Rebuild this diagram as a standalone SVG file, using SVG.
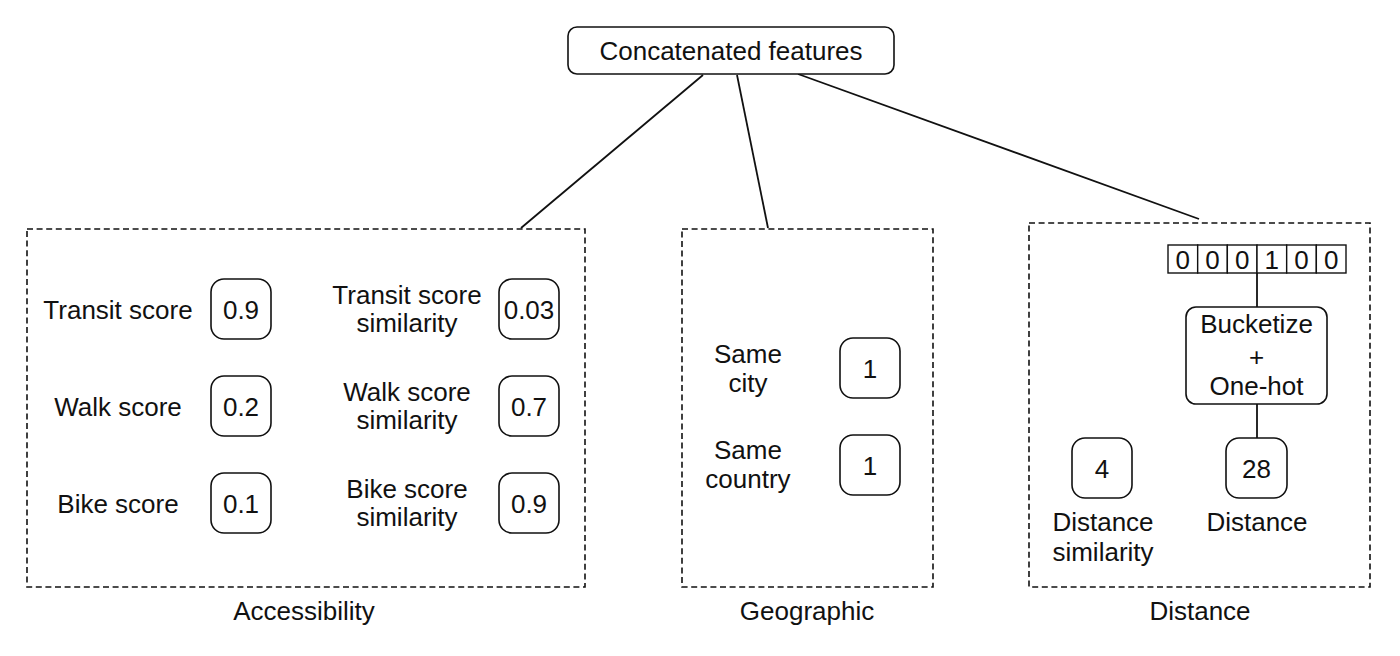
<svg xmlns="http://www.w3.org/2000/svg" width="1400" height="656" viewBox="0 0 1400 656">
<style>
text{font-family:"Liberation Sans",Arial,sans-serif;font-size:26px;fill:#111;text-anchor:middle}
.box{fill:#fff;stroke:#111;stroke-width:1.6}
.grp{fill:none;stroke:#111;stroke-width:1.6;stroke-dasharray:6 3.6}
.ln{stroke:#111;stroke-width:1.8;fill:none}
.cell{fill:#fff;stroke:#111;stroke-width:1.4}
</style>
<rect width="1400" height="656" fill="#fff"/>
<g id="connectors">
<line class="ln" x1="703" y1="75" x2="521" y2="228"/>
<line class="ln" x1="737" y1="75" x2="768" y2="228"/>
<line class="ln" x1="798" y1="74" x2="1199" y2="219"/>
<line class="ln" x1="1257" y1="273" x2="1257" y2="307"/>
<line class="ln" x1="1257" y1="404" x2="1257" y2="438"/>
</g>
<g id="concatenated">
<rect class="box" x="568" y="27" width="326" height="47" rx="9"/>
<text x="731" y="60">Concatenated features</text>
</g>
<g id="accessibility">
<rect class="grp" x="27" y="229" width="558" height="358"/>
<text x="304" y="620">Accessibility</text>
</g>
<g id="transit-score">
<text x="118" y="319">Transit score</text>
<rect class="box" x="211" y="279" width="60" height="60" rx="13"/>
<text x="241" y="318.5">0.9</text>
</g>
<g id="walk-score">
<text x="118" y="416">Walk score</text>
<rect class="box" x="211" y="376" width="60" height="60" rx="13"/>
<text x="241" y="415.5">0.2</text>
</g>
<g id="bike-score">
<text x="118" y="513">Bike score</text>
<rect class="box" x="211" y="473" width="60" height="60" rx="13"/>
<text x="241" y="512.5">0.1</text>
</g>
<g id="transit-sim">
<text x="407" y="303.5">Transit score</text>
<text x="407" y="332">similarity</text>
<rect class="box" x="499" y="279" width="60" height="60" rx="13"/>
<text x="529" y="318.5">0.03</text>
</g>
<g id="walk-sim">
<text x="407" y="400.5">Walk score</text>
<text x="407" y="429">similarity</text>
<rect class="box" x="499" y="376" width="60" height="60" rx="13"/>
<text x="529" y="415.5">0.7</text>
</g>
<g id="bike-sim">
<text x="407" y="497.5">Bike score</text>
<text x="407" y="526">similarity</text>
<rect class="box" x="499" y="473" width="60" height="60" rx="13"/>
<text x="529" y="512.5">0.9</text>
</g>
<g id="geographic">
<rect class="grp" x="682" y="229" width="251" height="358"/>
<text x="807" y="620">Geographic</text>
</g>
<g id="same-city">
<text x="748" y="363">Same</text>
<text x="748" y="392">city</text>
<rect class="box" x="840" y="338" width="60" height="60" rx="13"/>
<text x="870" y="377.5">1</text>
</g>
<g id="same-country">
<text x="748" y="459">Same</text>
<text x="748" y="488">country</text>
<rect class="box" x="840" y="435" width="60" height="60" rx="13"/>
<text x="870" y="474.5">1</text>
</g>
<g id="distance-group">
<rect class="grp" x="1029" y="223" width="341" height="364"/>
<text x="1200" y="620">Distance</text>
</g>
<g id="one-hot-vector">
<rect class="cell" x="1168" y="245" width="29.67" height="28"/>
<rect class="cell" x="1197.67" y="245" width="29.67" height="28"/>
<rect class="cell" x="1227.33" y="245" width="29.67" height="28"/>
<rect class="cell" x="1257" y="245" width="29.67" height="28"/>
<rect class="cell" x="1286.67" y="245" width="29.67" height="28"/>
<rect class="cell" x="1316.33" y="245" width="29.67" height="28"/>
<text x="1182.8" y="268.5">0</text>
<text x="1212.5" y="268.5">0</text>
<text x="1242.2" y="268.5">0</text>
<text x="1271.8" y="268.5">1</text>
<text x="1301.5" y="268.5">0</text>
<text x="1331.2" y="268.5">0</text>
</g>
<g id="bucketize">
<rect class="box" x="1186" y="307" width="141" height="97" rx="10"/>
<text x="1256.5" y="333">Bucketize</text>
<text x="1256.5" y="366">+</text>
<text x="1256.5" y="395">One-hot</text>
</g>
<g id="distance">
<rect class="box" x="1226" y="438" width="61" height="60" rx="13"/>
<text x="1256.5" y="477.5">28</text>
<text x="1257" y="531">Distance</text>
</g>
<g id="distance-similarity">
<rect class="box" x="1072" y="438" width="60" height="60" rx="13"/>
<text x="1102" y="477.5">4</text>
<text x="1103" y="531">Distance</text>
<text x="1103" y="561">similarity</text>
</g>
</svg>
